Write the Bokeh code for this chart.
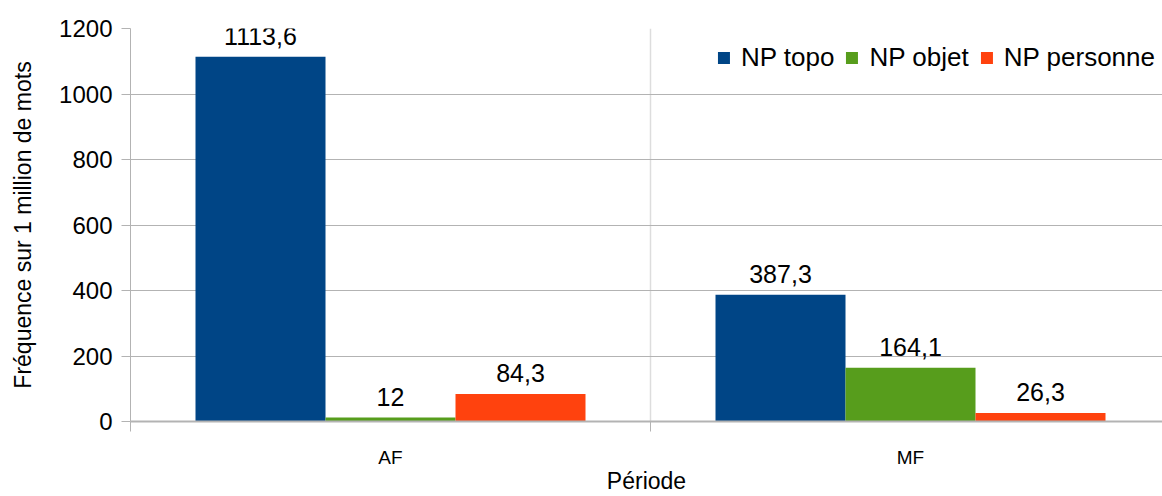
from bokeh.plotting import figure
from bokeh.models import Range1d, FixedTicker, ColumnDataSource, Legend, LegendItem, LabelSet
from bokeh.embed import file_html
from bokeh.resources import INLINE
from bokeh.core.properties import value

categories = ["AF", "MF"]
series_names = ["NP topo", "NP objet", "NP personne"]
np_topo = [1113.6, 387.3]
np_objet = [12, 164.1]
np_personne = [84.3, 26.3]
colors = ["#004586", "#579d1c", "#ff420e"]
y_ticks = [0, 200, 400, 600, 800, 1000, 1200]

FONT = "Liberation Sans"

p = figure(width=1162, height=496, output_backend="svg", toolbar_location=None,
           x_range=Range1d(0, 1.9846), y_range=Range1d(0, 1200))
p.min_border_left = 130
p.min_border_top = 28
p.min_border_right = 0
p.min_border_bottom = 74
p.outline_line_color = None
p.background_fill_color = "white"

# y axis
p.yaxis.ticker = FixedTicker(ticks=y_ticks)
p.yaxis.axis_line_color = "#b3b3b3"
p.yaxis.major_tick_line_color = "#b3b3b3"
p.yaxis.major_tick_out = 9
p.yaxis.major_tick_in = 0
p.yaxis.minor_tick_line_color = None
p.yaxis.major_label_standoff = 9
p.yaxis.major_label_text_font = FONT
p.yaxis.major_label_text_font_size = "24px"
p.yaxis.major_label_text_color = "black"
p.yaxis.axis_label = "Fréquence sur 1 million de mots"
p.yaxis.axis_label_text_font = FONT
p.yaxis.axis_label_text_font_style = "normal"
p.yaxis.axis_label_text_font_size = "23px"
p.yaxis.axis_label_text_color = "black"
p.yaxis.axis_label_standoff = 20

# x axis: labels at category centers, minor ticks at category boundaries
centers = [i + 0.5 for i in range(len(categories))]
bounds = [float(i) for i in range(len(categories) + 1)]
p.xaxis.ticker = FixedTicker(ticks=centers, minor_ticks=bounds)
p.xaxis.major_label_overrides = {c: cat for c, cat in zip(centers, categories)}
p.xaxis.axis_line_color = "#b3b3b3"
p.xaxis.axis_line_width = 2
p.xaxis.major_tick_line_color = None
p.xaxis.major_tick_out = 0
p.xaxis.major_tick_in = 0
p.xaxis.minor_tick_line_color = "#b3b3b3"
p.xaxis.minor_tick_out = 10
p.xaxis.minor_tick_in = 0
p.xaxis.major_label_standoff = 15
p.xaxis.major_label_text_font = FONT
p.xaxis.major_label_text_font_size = "19px"
p.xaxis.major_label_text_color = "black"
p.xaxis.axis_label = "Période"
p.xaxis.axis_label_text_font = FONT
p.xaxis.axis_label_text_font_style = "normal"
p.xaxis.axis_label_text_font_size = "23px"
p.xaxis.axis_label_text_color = "black"
p.xaxis.axis_label_standoff = -3

# grids
p.ygrid.grid_line_color = "#b3b3b3"
p.ygrid.ticker = FixedTicker(ticks=y_ticks)
p.xgrid.ticker = FixedTicker(ticks=bounds)
p.xgrid.grid_line_color = "#dddddd"
p.xgrid.grid_line_width = 1.5

series = [np_topo, np_objet, np_personne]
bar_w = 0.25
items = []
for k, (name, vals, col) in enumerate(zip(series_names, series, colors)):
    xs = [c + (k - 1) * bar_w for c in centers]
    labels = [("%g" % v).replace(".", ",") for v in vals]
    src = ColumnDataSource(dict(x=xs, top=vals, label=labels))
    r = p.vbar(x="x", top="top", width=bar_w, bottom=0, source=src,
               fill_color=col, line_color=None)
    p.add_layout(LabelSet(x="x", y="top", text="label", source=src,
                          text_align="center", text_baseline="bottom",
                          y_offset=12, text_font=value(FONT),
                          text_font_size="25px", text_color="black"))
    items.append(LegendItem(label=name, renderers=[r]))

legend = Legend(items=items, orientation="horizontal", location="top_right")
legend.background_fill_alpha = 0
legend.border_line_color = None
legend.label_text_font = FONT
legend.label_text_font_size = "26px"
legend.label_text_color = "black"
legend.glyph_width = 15
legend.glyph_height = 15
legend.spacing = 10
legend.label_standoff = 10
legend.label_height = 44
legend.margin = 7
legend.padding = 0
p.add_layout(legend)

open("out.html", "w").write(file_html(p, INLINE))
